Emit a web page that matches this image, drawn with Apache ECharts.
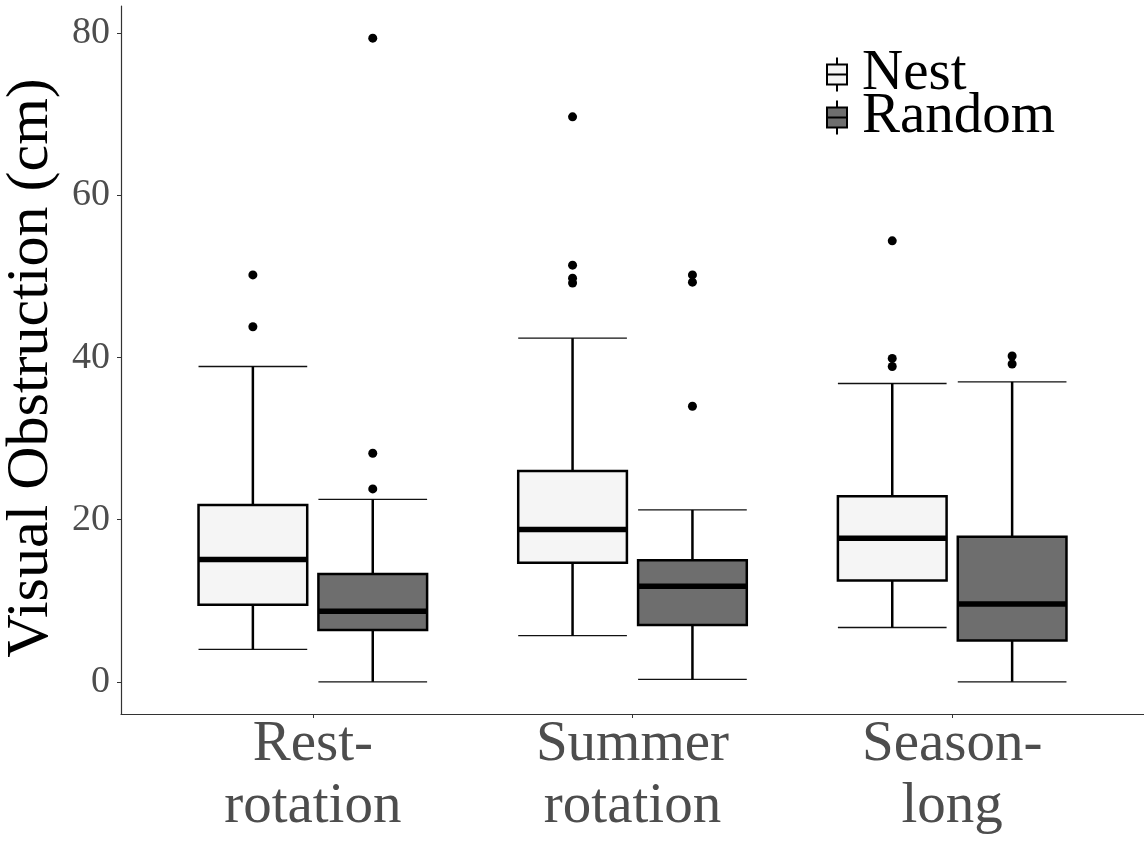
<!DOCTYPE html>
<html>
<head>
<meta charset="utf-8">
<title>Visual Obstruction (cm)</title>
<script src="https://cdn.jsdelivr.net/npm/echarts@6/dist/echarts.min.js"></script>
<style>
  html, body { margin: 0; padding: 0; background: #ffffff; }
  #chart { width: 1144px; height: 842px; }
</style>
</head>
<body>
<div id="chart"></div>
<script>
// Pasture treatments along the x axis
const categories = ['Rest-\nrotation', 'Summer\nrotation', 'Season-\nlong'];
const groups = ['Nest', 'Random'];

// Box summaries per treatment: [lower whisker, Q1, median, Q3, upper whisker]
const nestStats = [
  [4.0, 9.5, 15.1, 21.8, 38.9],
  [5.7, 14.7, 18.8, 26.0, 42.4],
  [6.7, 12.5, 17.7, 22.9, 36.8]
];
const randomStats = [
  [0.0, 6.4, 8.7, 13.3, 22.5],
  [0.3, 7.0, 11.8, 15.0, 21.2],
  [0.0, 5.1, 9.6, 17.9, 37.0]
];

// Points beyond the whiskers
const nestOutliers = [
  [50.2, 43.8],
  [69.7, 51.4, 49.8, 49.2],
  [54.4, 39.9, 38.9]
];
const randomOutliers = [
  [79.4, 28.2, 23.8],
  [50.2, 49.3, 34.0],
  [40.2, 39.2]
];

// y axis tick values
const yTicks = [0, 20, 40, 60, 80];

const FONT = '"Liberation Serif", "Times New Roman", serif';
const NEST_FILL = '#F5F5F5';
const RANDOM_FILL = '#6E6E6E';
const DODGE = 0.1875;   // half the dodge width, in category units
const BOX_W = 0.34;     // box width, in category units

function boxRows(stats) {
  return stats.map((s, i) => [i + 1].concat(s));
}
function outlierRows(list, offset) {
  const rows = [];
  list.forEach((vals, i) => vals.forEach(v => rows.push([i + 1 + offset, v])));
  return rows;
}

function makeBoxRenderer(offset) {
  return function (params, api) {
    const x = api.value(0) + offset;
    const lo = api.coord([x, api.value(1)]);
    const q1 = api.coord([x, api.value(2)]);
    const md = api.coord([x, api.value(3)]);
    const q3 = api.coord([x, api.value(4)]);
    const hi = api.coord([x, api.value(5)]);
    const half = api.size([BOX_W, 0])[0] / 2;
    const cx = lo[0];
    const fill = api.visual('color');
    const capStyle = { stroke: '#111', lineWidth: 1.3 };
    const lineStyle = { stroke: '#000', lineWidth: 2.5 };
    return {
      type: 'group',
      children: [
        { type: 'line', shape: { x1: cx - half, y1: hi[1], x2: cx + half, y2: hi[1] }, style: capStyle },
        { type: 'line', shape: { x1: cx - half, y1: lo[1], x2: cx + half, y2: lo[1] }, style: capStyle },
        { type: 'line', shape: { x1: cx, y1: hi[1], x2: cx, y2: q3[1] }, style: lineStyle },
        { type: 'line', shape: { x1: cx, y1: q1[1], x2: cx, y2: lo[1] }, style: lineStyle },
        { type: 'rect', shape: { x: cx - half, y: q3[1], width: 2 * half, height: q1[1] - q3[1] },
          style: { fill: fill, stroke: '#000', lineWidth: 2.5 } },
        { type: 'line', shape: { x1: cx - half, y1: md[1], x2: cx + half, y2: md[1] },
          style: { stroke: '#000', lineWidth: 5.5 } }
      ]
    };
  };
}

// Boxplot glyph used as the legend key
const KEY_ICON = 'path://M10 0 L10 7 M0 7 L20 7 L20 27 L0 27 Z M0 17 L20 17 M10 27 L10 34';

const chart = echarts.init(document.getElementById('chart'), null, { renderer: 'canvas' });

chart.setOption({
  backgroundColor: '#ffffff',
  animation: false,
  textStyle: { fontFamily: FONT },
  grid: { left: 121, right: 0, top: 6, bottom: 128, containLabel: false, outerBoundsMode: 'none' },
  legend: {
    orient: 'vertical',
    left: 821,
    top: 41,
    itemWidth: 40,
    itemHeight: 34,
    itemGap: -14,
    symbolKeepAspect: true,
    selectedMode: false,
    textStyle: { fontFamily: FONT, fontSize: 57, color: '#000', lineHeight: 42 },
    data: [
      { name: groups[0], icon: KEY_ICON, itemStyle: { color: NEST_FILL, borderColor: '#000', borderWidth: 2 } },
      { name: groups[1], icon: KEY_ICON, itemStyle: { color: RANDOM_FILL, borderColor: '#000', borderWidth: 2 } }
    ]
  },
  xAxis: {
    type: 'value',
    min: 0.4,
    max: 3.6,
    splitLine: { show: false },
    axisLine: { show: true, onZero: false, lineStyle: { color: '#333', width: 1.2 } },
    axisTick: { show: true, length: 4, customValues: [1, 2, 3], lineStyle: { color: '#333', width: 1 } },
    axisLabel: {
      customValues: [1, 2, 3],
      formatter: v => categories[Math.round(v) - 1],
      fontFamily: FONT,
      fontSize: 57,
      lineHeight: 62,
      color: '#4D4D4D',
      margin: 0
    }
  },
  yAxis: {
    type: 'value',
    min: -3.97,
    max: 83.37,
    splitLine: { show: false },
    axisLine: { show: true, onZero: false, lineStyle: { color: '#333', width: 1.2 } },
    axisTick: { show: true, length: 4, customValues: yTicks, lineStyle: { color: '#333', width: 1 } },
    axisLabel: {
      customValues: yTicks,
      fontFamily: FONT,
      fontSize: 38,
      color: '#4D4D4D',
      margin: 11
    },
    name: 'Visual Obstruction (cm)',
    nameLocation: 'middle',
    nameRotate: 90,
    nameGap: 43,
    nameTextStyle: { fontFamily: FONT, fontSize: 60, color: '#000', padding: [0, 16, 0, 0] }
  },
  series: [
    {
      name: groups[0],
      type: 'custom',
      renderItem: makeBoxRenderer(-DODGE),
      itemStyle: { color: NEST_FILL },
      encode: { x: 0, y: [1, 2, 3, 4, 5] },
      data: boxRows(nestStats),
      z: 2
    },
    {
      name: groups[1],
      type: 'custom',
      renderItem: makeBoxRenderer(DODGE),
      itemStyle: { color: RANDOM_FILL },
      encode: { x: 0, y: [1, 2, 3, 4, 5] },
      data: boxRows(randomStats),
      z: 2
    },
    {
      name: 'Nest outliers',
      type: 'scatter',
      symbol: 'circle',
      symbolSize: 9,
      itemStyle: { color: '#000', opacity: 1 },
      data: outlierRows(nestOutliers, -DODGE),
      z: 3
    },
    {
      name: 'Random outliers',
      type: 'scatter',
      symbol: 'circle',
      symbolSize: 9,
      itemStyle: { color: '#000', opacity: 1 },
      data: outlierRows(randomOutliers, DODGE),
      z: 3
    }
  ]
});
</script>
</body>
</html>
